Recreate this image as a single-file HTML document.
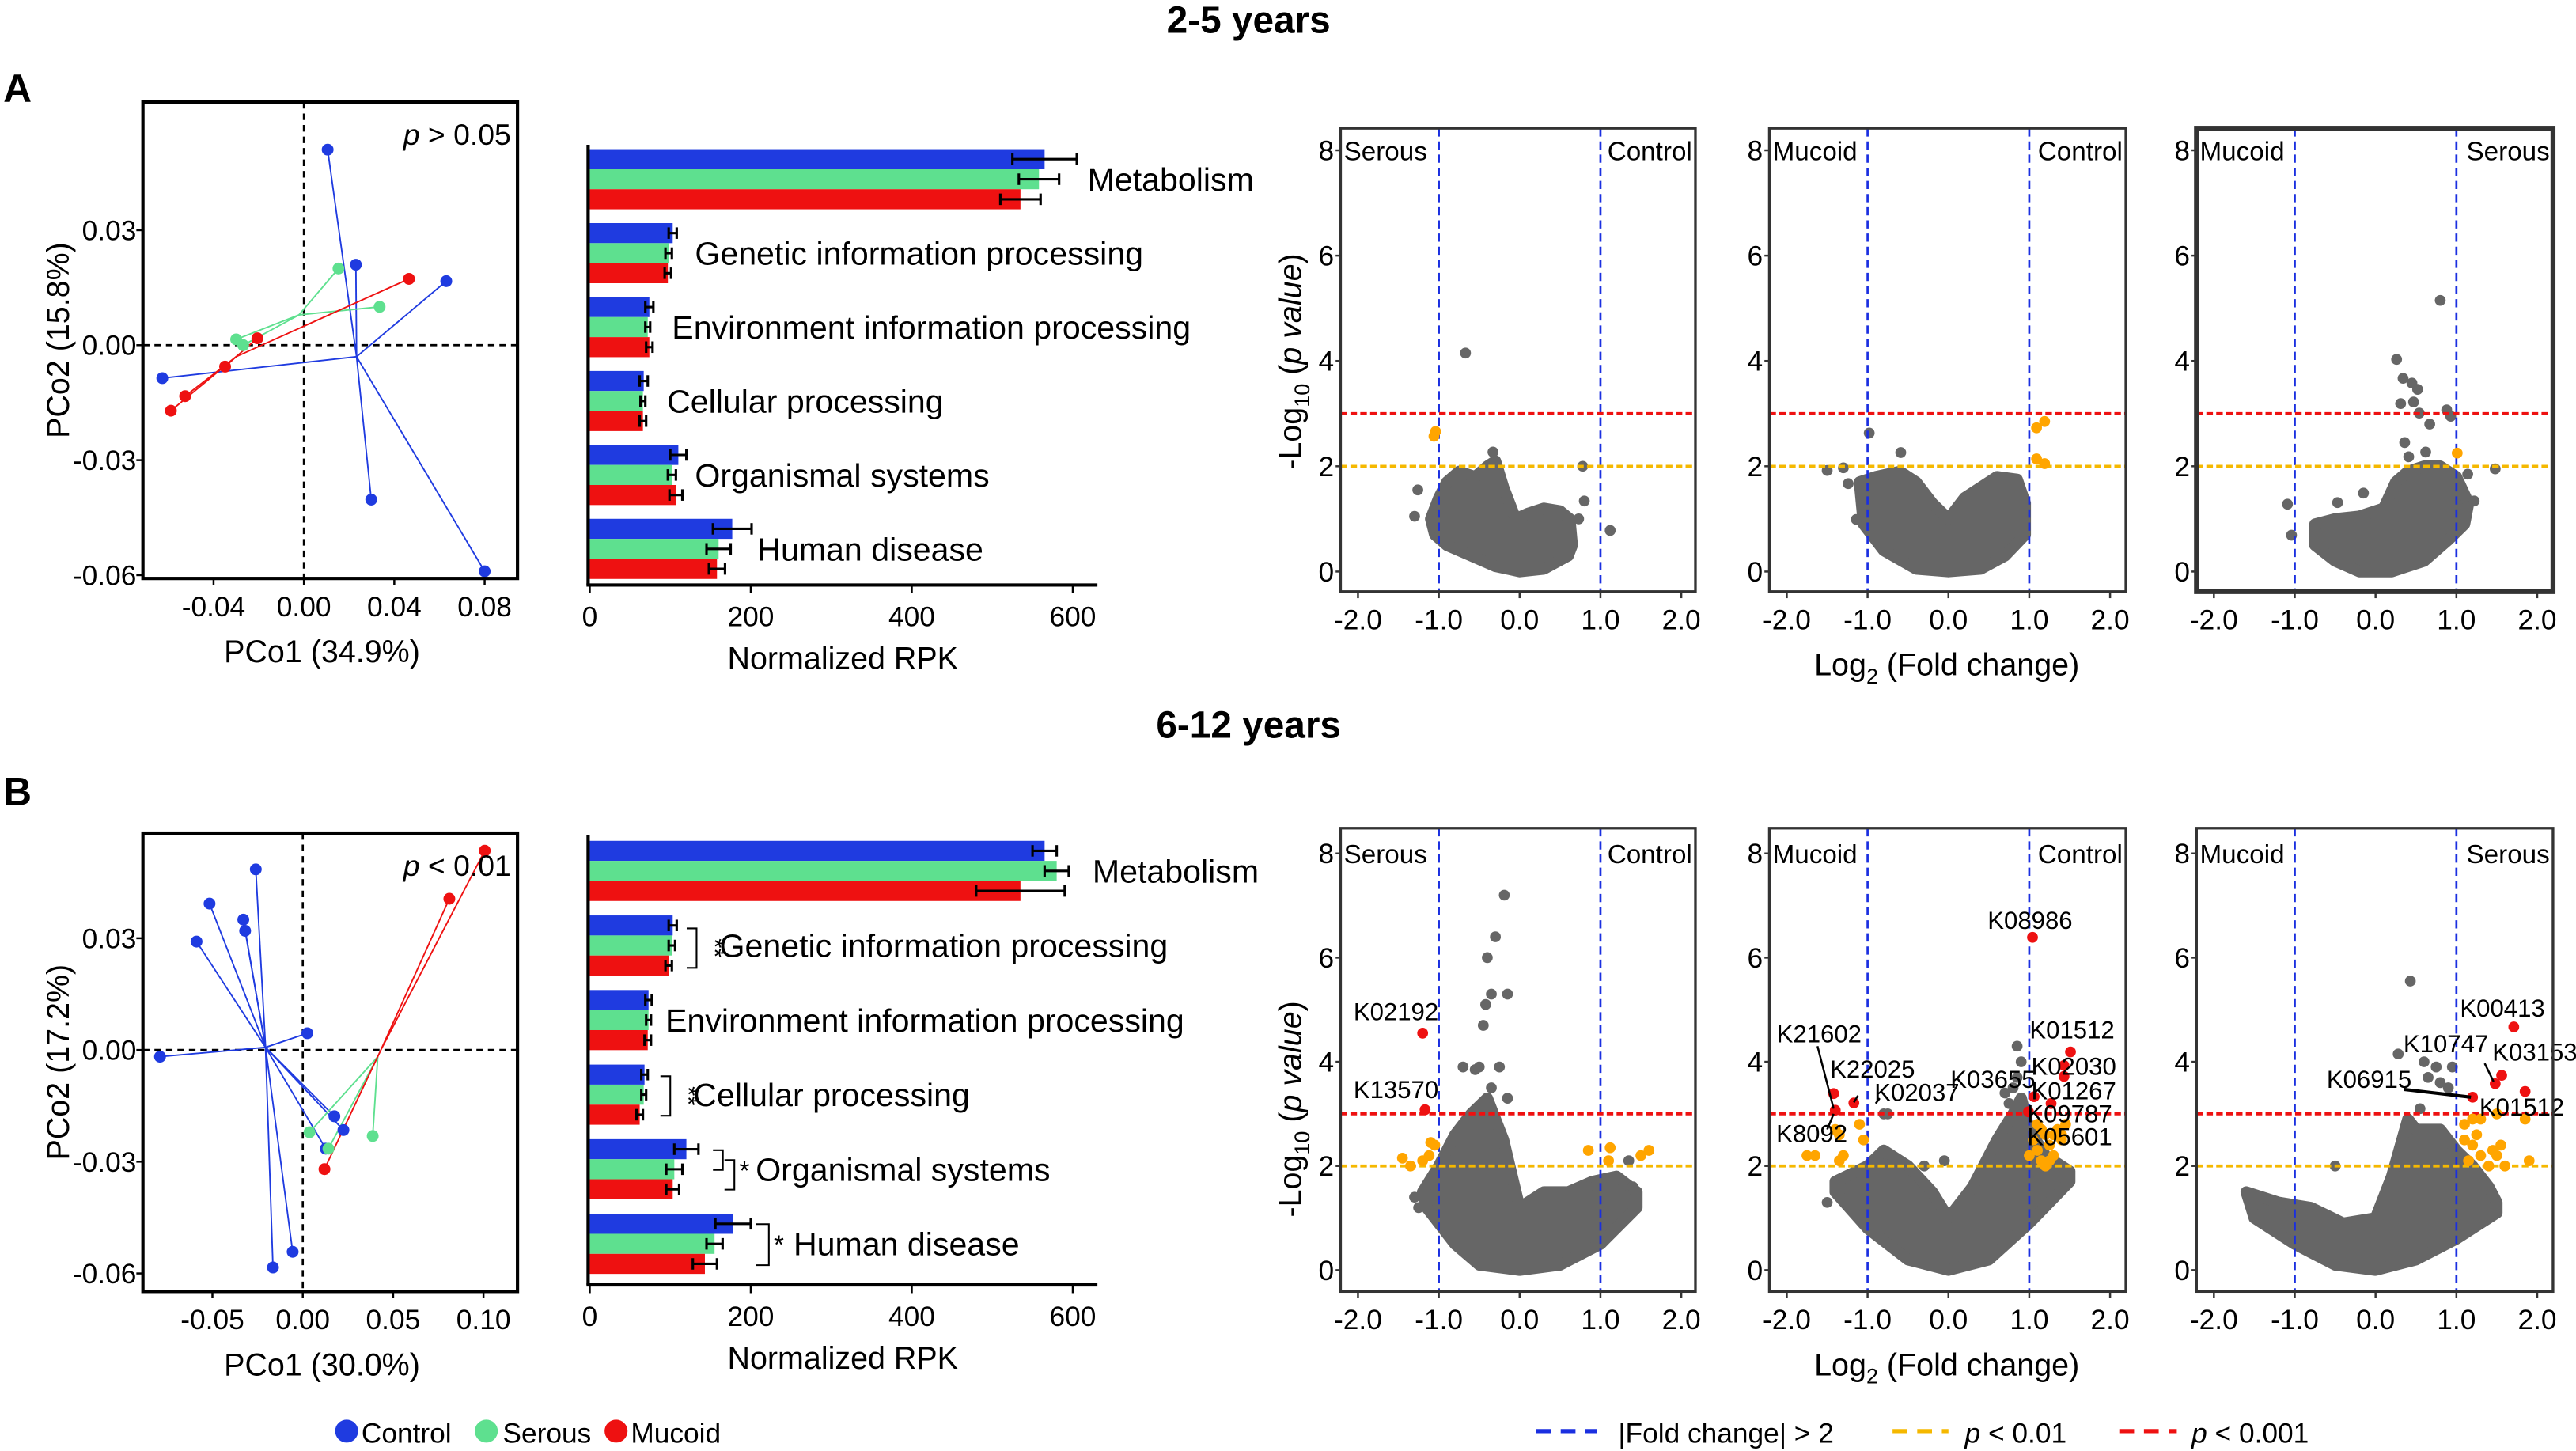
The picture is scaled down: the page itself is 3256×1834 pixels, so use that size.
<!DOCTYPE html>
<html><head><meta charset="utf-8"><style>
html,body{margin:0;padding:0;background:#fff;}
svg{display:block;font-family:"Liberation Sans",Arial,sans-serif;}
</style></head><body>
<svg id="fig" width="3256" height="1834" viewBox="0 0 1568 883" xmlns="http://www.w3.org/2000/svg">
<rect width="1568" height="883" fill="#fff"/>
<text x="760" y="20" font-size="23" font-weight="bold" text-anchor="middle">2-5 years</text>
<text x="760" y="449" font-size="23" font-weight="bold" text-anchor="middle">6-12 years</text>
<text x="2" y="62" font-size="24" font-weight="bold">A</text>
<text x="2" y="490" font-size="24" font-weight="bold">B</text>
<g id="root"></g>
<g>
<circle cx="211" cy="871" r="7" fill="#1f3be0"/>
<text x="220" y="878" font-size="17">Control</text>
<circle cx="296" cy="871" r="7" fill="#5ee08f"/>
<text x="306" y="878" font-size="17">Serous</text>
<circle cx="375" cy="871" r="7" fill="#ee1111"/>
<text x="384" y="878" font-size="17">Mucoid</text>
</g>
<g>
<line x1="935" y1="871" x2="972" y2="871" stroke="#1a2fe0" stroke-width="2.5" stroke-dasharray="9 6"/>
<text x="985" y="878" font-size="17">|Fold change| &gt; 2</text>
<line x1="1152" y1="871" x2="1186" y2="871" stroke="#f5b800" stroke-width="2.5" stroke-dasharray="9 6"/>
<text x="1196" y="878" font-size="17"><tspan font-style="italic">p</tspan> &lt; 0.01</text>
<line x1="1290" y1="871" x2="1325" y2="871" stroke="#ee1111" stroke-width="2.5" stroke-dasharray="9 6"/>
<text x="1334" y="878" font-size="17"><tspan font-style="italic">p</tspan> &lt; 0.001</text>
</g>
</svg>
<script>
// ---------- PCoA data ----------
const pcoaABlue = [[0.0105,0.051],[0.023,0.021],[0.063,0.0167],[0.0298,-0.0403],[0.080,-0.059],[-0.0627,-0.0086]];
const pcoaAGreen = [[0.0153,0.020],[0.0335,0.010],[-0.0300,0.0015],[-0.0269,0.000]];
const pcoaARed = [[0.0465,0.0173],[-0.0206,0.0018],[-0.0349,-0.0056],[-0.0526,-0.0133],[-0.0589,-0.0171]];
const pcoaACentroids = [[0.0233,-0.003],[-0.0022,0.0079],[-0.030,-0.003]];
const pcoaBBlue = [[-0.026,0.0485],[-0.0516,0.0393],[-0.0329,0.035],[-0.0319,0.032],[-0.0588,0.0291],[0.0025,0.0045],[-0.079,-0.0018],[0.0175,-0.0178],[0.0225,-0.0215],[0.0127,-0.0265],[-0.0056,-0.0542],[-0.0165,-0.0584]];
const pcoaBGreen = [[0.0037,-0.0221],[0.0142,-0.0265],[0.0387,-0.0231]];
const pcoaBRed = [[0.1007,0.0535],[0.0811,0.0406],[0.012,-0.032]];
const pcoaBCentroids = [[-0.0206,0.0007],[0.0415,-0.0018],[0.0434,0.0002]];
const pcoaAXTicks = [-0.04,0.00,0.04,0.08];
const pcoaAYTicks = [0.03,0.00,-0.03,-0.06];
const pcoaBXTicks = [-0.05,0.00,0.05,0.10];
const pcoaBYTicks = [0.03,0.00,-0.03,-0.06];
const pcoaAXLabels = ["-0.04","0.00","0.04","0.08"];
const pcoaAYLabels = ["0.03","0.00","-0.03","-0.06"];
const pcoaBXLabels = ["-0.05","0.00","0.05","0.10"];
const pcoaBYLabels = ["0.03","0.00","-0.03","-0.06"];
// ---------- bar data ----------
const barCategories = ["Metabolism","Genetic information processing","Environment information processing","Cellular processing","Organismal systems","Human disease"];
const barAControl = [565,103,74,67,110,177];
const barASerous = [558,98,72,66,102,160];
const barAMucoid = [535,97,74,66,107,158];
const barAControlErr = [40,5,5,5,10,24];
const barASerousErr = [25,4,3,3,5,15];
const barAMucoidErr = [25,4,4,4,8,10];
const barBControl = [565,103,73,68,120,178];
const barBSerous = [580,102,73,67,105,155];
const barBMucoid = [535,98,72,62,103,143];
const barBControlErr = [15,5,4,4,15,22];
const barBSerousErr = [15,4,3,3,10,10];
const barBMucoidErr = [55,4,4,4,8,15];
const barTicks = [0,200,400,600];
// ---------- volcano data ----------
const a1Upper=[[-1.1,1.0],[-1.0,1.4],[-0.9,1.7],[-0.75,1.9],[-0.55,1.8],[-0.4,2.0],[-0.3,2.1],[-0.2,1.6],[-0.05,1.0],[0.1,1.1],[0.3,1.2],[0.5,1.15],[0.62,1.0],[0.65,0.5]];
const a1Lower=[[0.6,0.3],[0.3,0.05],[0,0],[-0.3,0.1],[-0.6,0.3],[-0.9,0.5],[-1.05,0.7]];
const a1Gray=[[-0.67,4.15],[-1.26,1.55],[-1.3,1.05],[-1.0,0.66],[0.78,2.0],[0.8,1.34],[1.12,0.78],[0.73,1.0],[-0.33,2.27]];
const a1Orange=[[-1.06,2.57],[-1.04,2.66]];
const a1Red=[];
const a2Upper=[[-1.1,1.7],[-0.9,1.8],[-0.6,1.9],[-0.4,1.7],[-0.2,1.3],[0,1.0],[0.2,1.4],[0.4,1.6],[0.6,1.8],[0.85,1.75],[0.95,1.3],[0.95,0.7]];
const a2Lower=[[0.7,0.3],[0.4,0.05],[0,0],[-0.4,0.05],[-0.8,0.4],[-1.05,0.9]];
const a2Gray=[[-0.98,2.63],[-1.5,1.92],[-1.3,1.97],[-1.24,1.67],[-0.59,2.26],[-1.14,0.99]];
const a2Orange=[[1.09,2.73],[1.19,2.85],[1.09,2.14],[1.19,2.05]];
const a2Red=[];
const a3Upper=[[-0.75,0.9],[-0.5,1.0],[-0.2,1.05],[0.1,1.2],[0.25,1.7],[0.4,1.9],[0.6,2.0],[0.8,2.0],[1.0,1.8],[1.15,1.3],[1.1,0.9]];
const a3Lower=[[0.9,0.6],[0.6,0.2],[0.2,0],[-0.2,0],[-0.5,0.2],[-0.75,0.5]];
const a3Gray=[[0.8,5.15],[0.26,4.03],[0.34,3.67],[0.52,3.46],[0.45,3.58],[0.31,3.19],[0.47,3.22],[0.54,3.01],[0.88,3.07],[0.93,2.95],[0.67,2.8],[0.36,2.45],[0.62,2.27],[0.41,2.18],[-1.09,1.28],[-1.04,0.69],[1.48,1.95],[1.14,1.85],[1.22,1.34],[-0.15,1.49],[-0.47,1.31]];
const a3Orange=[[1.01,2.25]];
const a3Red=[];
const b1Upper=[[-1.2,1.5],[-1.0,2.0],[-0.8,2.6],[-0.6,3.0],[-0.4,3.3],[-0.2,2.5],[0,1.2],[0.3,1.5],[0.6,1.5],[0.9,1.7],[1.2,1.8],[1.45,1.5]];
const b1Lower=[[1.45,1.2],[1.0,0.5],[0.5,0.1],[0,0],[-0.5,0.1],[-0.8,0.5],[-1.15,1.2]];
const b1Gray=[[-0.19,7.2],[-0.3,6.4],[-0.4,6.0],[-0.35,5.3],[-0.15,5.3],[-0.42,5.1],[-0.45,4.7],[-0.7,3.9],[-0.5,3.9],[-0.25,3.9],[-0.55,3.85],[-0.35,3.5],[-0.15,3.3],[-1.3,1.4],[-1.25,1.2],[0.85,1.6],[1.4,1.6],[1.35,2.1]];
const b1Orange=[[-1.45,2.15],[-1.35,2.0],[-1.2,2.1],[-1.12,2.2],[-1.1,2.45],[-1.05,2.4],[0.85,2.3],[1.12,2.35],[1.1,2.1],[1.5,2.2],[1.6,2.3]];
const b1Red=[[-1.2,4.55],[-1.17,3.08]];
const b1Labels=[["K02192",-1.53,4.8],["K13570",-1.53,3.3]];
const b2Upper=[[-1.4,1.7],[-1.0,2.0],[-0.8,2.3],[-0.5,2.0],[-0.2,1.5],[0,1.0],[0.3,1.6],[0.6,2.5],[0.8,3.0],[0.9,3.3],[1.0,2.7],[1.2,2.2],[1.5,1.9]];
const b2Lower=[[1.5,1.7],[1.0,0.9],[0.5,0.2],[0,0],[-0.5,0.2],[-1.0,0.8],[-1.4,1.5]];
const b2Gray=[[0.85,4.3],[0.9,4.0],[0.85,3.7],[0.7,3.4],[0.8,3.5],[-0.05,2.1],[-0.75,3.0],[-0.8,3.0],[-1.5,1.3],[-0.3,2.0],[0.75,3.2]];
const b2Orange=[[1.05,2.5],[1.1,2.3],[1.15,2.1],[1.2,2.6],[1.25,2.4],[1.3,2.2],[1.35,2.7],[1.4,2.5],[1.45,2.8],[1.1,2.8],[1.2,2.0],[1.3,2.6],[1.0,2.2],[1.15,2.7],[1.25,2.1],[1.4,2.6],[-1.75,2.2],[-1.65,2.2],[-1.35,2.1],[-1.3,2.2],[-1.05,2.5],[-1.1,2.8],[-1.35,2.6],[-1.4,2.7]];
const b2Red=[[1.04,6.39],[1.51,4.19],[1.43,3.93],[1.43,3.72],[1.06,3.33],[1.27,3.2],[0.99,3.04],[-1.42,3.39],[-1.40,3.07],[-1.17,3.21]];
const b2Labels=[["K08986",1.01,6.55],["K01512",1.53,4.45],["K02030",1.55,3.75],["K01267",1.55,3.28],["K09787",1.5,2.84],["K05601",1.5,2.4],["K03655",0.55,3.5],["K02037",-0.39,3.25],["K22025",-0.94,3.7],["K21602",-1.6,4.37],["K8092",-1.69,2.46]];
const b3Upper=[[-1.6,1.5],[-1.2,1.3],[-0.8,1.2],[-0.4,0.9],[0,1.0],[0.2,1.8],[0.4,2.9],[0.5,2.7],[0.8,2.7],[1.0,2.3],[1.2,2.0],[1.4,1.6],[1.5,1.3]];
const b3Lower=[[1.5,1.1],[1.0,0.6],[0.5,0.2],[0,0],[-0.5,0.1],[-1.0,0.5],[-1.5,1.0]];
const b3Gray=[[0.43,5.55],[0.28,4.15],[0.6,4.0],[0.75,3.9],[0.95,3.9],[0.65,3.7],[0.9,3.5],[0.8,3.6],[-0.5,2.0],[0.55,3.1]];
const b3Orange=[[1.1,2.8],[1.2,2.9],[1.3,2.9],[1.1,2.5],[1.2,2.4],[1.3,2.2],[1.5,2.2],[1.55,2.4],[1.4,2.0],[1.6,2.0],[1.85,2.9],[1.9,2.1],[1.15,2.1],[1.45,2.3],[1.25,2.6],[1.5,3.0]];
const b3Red=[[1.71,4.67],[1.56,3.74],[1.48,3.58],[1.85,3.43],[1.2,3.32]];
const b3Labels=[["K00413",1.57,4.87],["K10747",0.87,4.18],["K03153",1.97,4.02],["K06915",-0.08,3.5],["K01512",1.81,2.97]];
const volXTicks=[-2,-1,0,1,2];
const volXLabels=["-2.0","-1.0","0.0","1.0","2.0"];
const volYTicks=[0,2,4,6,8];

const NS="http://www.w3.org/2000/svg";
const root=document.getElementById('root');
function mk(tag,attrs,parent){const e=document.createElementNS(NS,tag);for(const k in attrs)e.setAttribute(k,attrs[k]);(parent||root).appendChild(e);return e;}
function txt(s,attrs,parent){const e=mk('text',attrs,parent);e.textContent=s;return e;}
const BLUE="#1f3be0",GREEN="#5ee08f",RED="#ee1111";

// ---------- PCoA ----------
function pcoa(cfg){
  const g=mk('g',{});
  
  
  const sx=v=>cfg.x0+v*cfg.kx, sy=v=>cfg.y0-v*cfg.ky;
  mk('line',{x1:sx(0),y1:cfg.top,x2:sx(0),y2:cfg.bottom,stroke:'#000','stroke-width':1.3,'stroke-dasharray':'4 3'},g);
  mk('line',{x1:cfg.left,y1:sy(0),x2:cfg.right,y2:sy(0),stroke:'#000','stroke-width':1.3,'stroke-dasharray':'4 3'},g);
  const groups=[[cfg.blue,BLUE,'control'],[cfg.green,GREEN,'serous'],[cfg.red,RED,'mucoid']];
  groups.forEach((gr,i)=>{
    const c=cfg.cent[i];
    gr[0].forEach(p=>{
      const l=mk('line',{x1:sx(p[0]),y1:sy(p[1]),x2:sx(c[0]),y2:sy(c[1]),stroke:gr[1],'stroke-width':0.9},g);
      
      
    });
  });
  groups.forEach(gr=>{
    gr[0].forEach(p=>{
      const d=mk('circle',{cx:sx(p[0]),cy:sy(p[1]),r:3.6,fill:gr[1]},g);
      
      
    });
  });
  mk('rect',{x:cfg.left,y:cfg.top,width:cfg.right-cfg.left,height:cfg.bottom-cfg.top,fill:'none',stroke:'#000','stroke-width':2},g);
  cfg.xt.forEach((v,i)=>{
    mk('line',{x1:sx(v),y1:cfg.bottom,x2:sx(v),y2:cfg.bottom+4,stroke:'#000','stroke-width':1.2},g);
    const t=txt(cfg.xl[i],{x:sx(v),y:cfg.bottom+23,'font-size':17,'text-anchor':'middle'},g);
    
    
  });
  cfg.yt.forEach((v,i)=>{
    mk('line',{x1:cfg.left-4,y1:sy(v),x2:cfg.left,y2:sy(v),stroke:'#000','stroke-width':1.2},g);
    const t=txt(cfg.yl[i],{x:cfg.left-4,y:sy(v)+6,'font-size':17,'text-anchor':'end'},g);
    
    
  });
  const pt=mk('text',{x:cfg.right-4,y:cfg.top+26,'font-size':18,'text-anchor':'end'},g);
  pt.innerHTML='<tspan font-style="italic">p</tspan> '+cfg.ptext;
  
  
  const xt=txt(cfg.xtitle,{x:(cfg.left+cfg.right)/2-5,y:cfg.bottom+51,'font-size':19,'text-anchor':'middle'},g);
  
  
  const cy=(cfg.top+cfg.bottom)/2;
  const yt=txt(cfg.ytitle,{x:0,y:0,'font-size':19,'text-anchor':'middle',transform:`translate(42,${cy}) rotate(-90)`},g);
  
  
}
pcoa({name:'pcoa-a',left:87,right:315,top:62,bottom:352,x0:185,kx:1375,y0:210,ky:2333,blue:pcoaABlue,green:pcoaAGreen,red:pcoaARed,cent:pcoaACentroids,xt:pcoaAXTicks,xl:pcoaAXLabels,yt:pcoaAYTicks,yl:pcoaAYLabels,ptext:'&gt; 0.05',xtitle:'PCo1 (34.9%)',ytitle:'PCo2 (15.8%)'});
pcoa({name:'pcoa-b',left:87,right:315,top:507,bottom:786,x0:184.3,kx:1100,y0:639,ky:2267,blue:pcoaBBlue,green:pcoaBGreen,red:pcoaBRed,cent:pcoaBCentroids,xt:pcoaBXTicks,xl:pcoaBXLabels,yt:pcoaBYTicks,yl:pcoaBYLabels,ptext:'&lt; 0.01',xtitle:'PCo1 (30.0%)',ytitle:'PCo2 (17.2%)'});

// ---------- Bars ----------
function bars(cfg){
  const g=mk('g',{});
  
  
  const sx=v=>359+v*0.49;
  const series=[[cfg.c,cfg.ce,BLUE,'control'],[cfg.s,cfg.se,GREEN,'serous'],[cfg.m,cfg.me,RED,'mucoid']];
  barCategories.forEach((cat,i)=>{
    const cy=cfg.y0+i*cfg.step;
    series.forEach((s,j)=>{
      const yc=cy+(j-1)*12.2;
      const r=mk('rect',{x:359,y:yc-6.1,width:sx(s[0][i])-359,height:12.2,fill:s[2]},g);
      
      
      const lo=sx(s[0][i]-s[1][i]),hi=sx(s[0][i]+s[1][i]);
      mk('line',{x1:lo,y1:yc,x2:hi,y2:yc,stroke:'#000','stroke-width':1.5},g);
      mk('line',{x1:lo,y1:yc-3.5,x2:lo,y2:yc+3.5,stroke:'#000','stroke-width':1.5},g);
      mk('line',{x1:hi,y1:yc-3.5,x2:hi,y2:yc+3.5,stroke:'#000','stroke-width':1.5},g);
    });
    const t=txt(cat,{x:cfg.lx[i],y:cy+7,'font-size':19.8},g);
    
    
  });
  mk('line',{x1:358,y1:cfg.top,x2:358,y2:cfg.axisY,stroke:'#000','stroke-width':2},g);
  mk('line',{x1:357,y1:cfg.axisY,x2:668,y2:cfg.axisY,stroke:'#000','stroke-width':2},g);
  barTicks.forEach(v=>{
    mk('line',{x1:sx(v),y1:cfg.axisY,x2:sx(v),y2:cfg.axisY+5,stroke:'#000','stroke-width':1.2},g);
    const t=txt(String(v),{x:sx(v),y:cfg.axisY+25,'font-size':17,'text-anchor':'middle'},g);
    
    
  });
  const xt=txt('Normalized RPK',{x:513,y:cfg.axisY+51,'font-size':19,'text-anchor':'middle'},g);
  
  
  return g;
}
bars({name:'bar-chart-a',c:barAControl,s:barASerous,m:barAMucoid,ce:barAControlErr,se:barASerousErr,me:barAMucoidErr,y0:109,step:45,top:88,axisY:356,lx:[662,423,409,406,423,461]});
const gb=bars({name:'bar-chart-b',c:barBControl,s:barBSerous,m:barBMucoid,ce:barBControlErr,se:barBSerousErr,me:barBMucoidErr,y0:530,step:45.4,top:508,axisY:782,lx:[665,438,405,422,460,483]});
function bracket(x,y1,y2,w){const p=mk('path',{d:`M${x-w},${y1} H${x} V${y2} H${x-w}`,fill:'none',stroke:'#000','stroke-width':1},gb);}
bracket(424,565,589,6);txt('**',{x:0,y:0,'font-size':15,transform:'translate(430,577) rotate(90)','text-anchor':'middle'},gb);
bracket(408,655,679,6);txt('**',{x:0,y:0,'font-size':15,transform:'translate(414,667) rotate(90)','text-anchor':'middle'},gb);
bracket(440,700,712,6);bracket(447,706,724,6);txt('*',{x:450,y:718,'font-size':16},gb);
bracket(468,745,770,8);txt('*',{x:471,y:763,'font-size':16},gb);

// ---------- Volcano ----------
function volcano(cfg){
  const g=mk('g',{});
  
  
  const sx=v=>cfg.x0+v*49.2, sy=v=>cfg.y0-v*cfg.ky;
  const pts=cfg.up.concat(cfg.low).map(p=>sx(p[0])+','+sy(p[1])).join(' ');
  const cl=mk('polygon',{points:pts,fill:'#666','stroke':'#666','stroke-width':7,'stroke-linejoin':'round'},g);
  
  
  cfg.gray.forEach(p=>{const c=mk('circle',{cx:sx(p[0]),cy:sy(p[1]),r:3.3,fill:'#666'},g);});
  mk('line',{x1:sx(-1),y1:cfg.top,x2:sx(-1),y2:cfg.bottom,stroke:'#1a2fe0','stroke-width':1.3,'stroke-dasharray':'5 3'},g);
  mk('line',{x1:sx(1),y1:cfg.top,x2:sx(1),y2:cfg.bottom,stroke:'#1a2fe0','stroke-width':1.3,'stroke-dasharray':'5 3'},g);
  mk('line',{x1:cfg.left,y1:sy(2),x2:cfg.right,y2:sy(2),stroke:'#f5b800','stroke-width':1.8,'stroke-dasharray':'4 2'},g);
  mk('line',{x1:cfg.left,y1:sy(3),x2:cfg.right,y2:sy(3),stroke:'#ee1111','stroke-width':1.8,'stroke-dasharray':'4 2'},g);
  cfg.orange.forEach(p=>{const c=mk('circle',{cx:sx(p[0]),cy:sy(p[1]),r:3.3,fill:'#ffa500'},g);});
  cfg.red.forEach(p=>{const c=mk('circle',{cx:sx(p[0]),cy:sy(p[1]),r:3.3,fill:'#ee1111'},g);});
  (cfg.labels||[]).forEach(l=>{const t=txt(l[0],{x:sx(l[1]),y:sy(l[2]),'font-size':15,'text-anchor':'middle'},g);});
  (cfg.leaders||[]).forEach(l=>{mk('line',{x1:sx(l[0]),y1:sy(l[1]),x2:sx(l[2]),y2:sy(l[3]),stroke:'#000','stroke-width':l[4]||1.2},g);});
  mk('rect',{x:cfg.left,y:cfg.top,width:cfg.right-cfg.left,height:cfg.bottom-cfg.top,fill:'none',stroke:'#333','stroke-width':cfg.bw||1.6},g);
  volXTicks.forEach((v,i)=>{
    mk('line',{x1:sx(v),y1:cfg.bottom,x2:sx(v),y2:cfg.bottom+4,stroke:'#333','stroke-width':1.2},g);
    const t=txt(volXLabels[i],{x:sx(v),y:cfg.bottom+23,'font-size':17,'text-anchor':'middle'},g);
    
    
  });
  volYTicks.forEach(v=>{
    mk('line',{x1:cfg.left-3,y1:sy(v),x2:cfg.left,y2:sy(v),stroke:'#333','stroke-width':1.2},g);
    const t=txt(String(v),{x:cfg.left-4,y:sy(v)+6,'font-size':17,'text-anchor':'end'},g);
    
    
  });
  const t1=txt(cfg.lt,{x:cfg.left+2,y:sy(8)+6,'font-size':16},g);
  
  
  const t2=txt(cfg.rt,{x:cfg.right-2,y:sy(8)+6,'font-size':16,'text-anchor':'end'},g);
  
  
}
const PX=[[816,1032,925],[1077,1294,1186],[1337,1554,1446]];
const A={top:78,bottom:360,y0:347.8,ky:32.05}, B={top:504,bottom:786,y0:773,ky:31.7};
volcano(Object.assign({name:'volcano-a-serous-control',left:PX[0][0],right:PX[0][1],x0:PX[0][2],up:a1Upper,low:a1Lower,gray:a1Gray,orange:a1Orange,red:a1Red,lt:'Serous',rt:'Control'},A));
volcano(Object.assign({name:'volcano-a-mucoid-control',left:PX[1][0],right:PX[1][1],x0:PX[1][2],up:a2Upper,low:a2Lower,gray:a2Gray,orange:a2Orange,red:a2Red,lt:'Mucoid',rt:'Control'},A));
volcano(Object.assign({name:'volcano-a-mucoid-serous',left:PX[2][0],right:PX[2][1],x0:PX[2][2],up:a3Upper,low:a3Lower,gray:a3Gray,orange:a3Orange,red:a3Red,lt:'Mucoid',rt:'Serous',bw:3},A));
volcano(Object.assign({name:'volcano-b-serous-control',left:PX[0][0],right:PX[0][1],x0:PX[0][2],up:b1Upper,low:b1Lower,gray:b1Gray,orange:b1Orange,red:b1Red,labels:b1Labels,lt:'Serous',rt:'Control'},B));
volcano(Object.assign({name:'volcano-b-mucoid-control',left:PX[1][0],right:PX[1][1],x0:PX[1][2],up:b2Upper,low:b2Lower,gray:b2Gray,orange:b2Orange,red:b2Red,labels:b2Labels,leaders:[[-1.62,4.3,-1.42,3.1],[-1.5,2.7,-1.42,3.0],[-1.12,3.35,-1.17,3.22],[-0.85,3.3,-0.9,3.2]],lt:'Mucoid',rt:'Control'},B));
volcano(Object.assign({name:'volcano-b-mucoid-serous',left:PX[2][0],right:PX[2][1],x0:PX[2][2],up:b3Upper,low:b3Lower,gray:b3Gray,orange:b3Orange,red:b3Red,labels:b3Labels,leaders:[[0.35,3.47,1.18,3.32,2],[1.35,3.97,1.46,3.62,1.2]],lt:'Mucoid',rt:'Serous'},B));
[[220,'a'],[675,'b']].forEach(r=>{
  const t=mk('text',{x:0,y:0,'font-size':19,'text-anchor':'middle',transform:`translate(792,${r[0]}) rotate(-90)`});
  t.innerHTML='-Log<tspan font-size="13" dy="5">10</tspan><tspan dy="-5"> (</tspan><tspan font-style="italic">p value</tspan>)';
  
  
});
[[411,'a'],[837,'b']].forEach(r=>{
  const t=mk('text',{x:1185,y:r[0],'font-size':19,'text-anchor':'middle'});
  t.innerHTML='Log<tspan font-size="13" dy="5">2</tspan><tspan dy="-5"> (Fold change)</tspan>';
  
  
});
</script>
</body></html>
